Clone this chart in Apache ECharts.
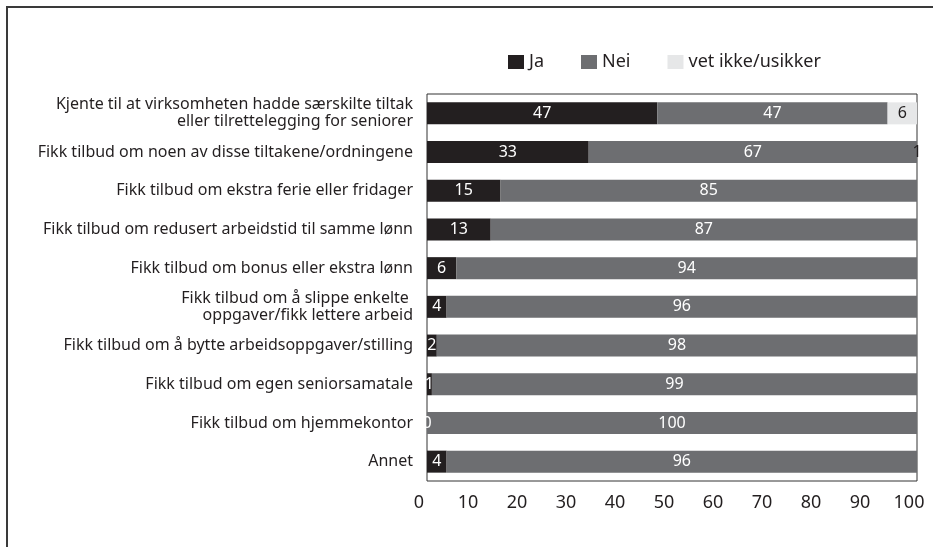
<!DOCTYPE html>
<html>
<head>
<meta charset="utf-8">
<script src="https://cdn.jsdelivr.net/npm/echarts@6/dist/echarts.min.js"></script>
<style>
  html, body { margin: 0; padding: 0; background: #fff; }
  #chart { width: 933px; height: 547px; }
</style>
</head>
<body>
<div id="chart"></div>
<script>
// kategorier (ovenfra og ned)
var categories = [
  'Kjente til at virksomheten hadde særskilte tiltak\neller tilrettelegging for seniorer',
  'Fikk tilbud om noen av disse tiltakene/ordningene',
  'Fikk tilbud om ekstra ferie eller fridager',
  'Fikk tilbud om redusert arbeidstid til samme lønn',
  'Fikk tilbud om bonus eller ekstra lønn',
  'Fikk tilbud om å slippe enkelte \noppgaver/fikk lettere arbeid',
  'Fikk tilbud om å bytte arbeidsoppgaver/stilling',
  'Fikk tilbud om egen seniorsamatale',
  'Fikk tilbud om hjemmekontor',
  'Annet'
];
var ja = [47, 33, 15, 13, 6, 4, 2, 1, 0, 4];
var nei = [47, 67, 85, 87, 94, 96, 98, 99, 100, 96];
var vetIkke = [6, 1, 0, 0, 0, 0, 0, 0, 0, 0];

var chart = echarts.init(document.getElementById('chart'));
var fontFam = '"Noto Sans", "Open Sans", sans-serif';
var ink = '#231f20';

function barLabel(color, hideZero) {
  return {
    show: true,
    position: 'inside',
    color: color,
    fontSize: 16,
    fontFamily: fontFam,
    formatter: function (p) {
      if (hideZero && p.value === 0) return '';
      return p.value;
    }
  };
}

var option = {
  animation: false,
  backgroundColor: '#fff',
  textStyle: { fontFamily: fontFam },
  // ytre ramme (topp og venstre)
  graphic: [
    { type: 'line', shape: { x1: 6, y1: 7, x2: 933, y2: 7 }, style: { stroke: '#3a3a3a', lineWidth: 2 } },
    { type: 'line', shape: { x1: 7, y1: 7, x2: 7, y2: 547 }, style: { stroke: '#3a3a3a', lineWidth: 2 } }
  ],
  legend: {
    left: 503,
    top: 48,
    itemWidth: 16,
    itemHeight: 14,
    itemGap: 37,
    icon: 'rect',
    textStyle: { fontSize: 18, color: ink, fontFamily: fontFam },
    data: ['Ja', 'Nei', 'vet ikke/usikker']
  },
  grid: {
    left: 427,
    right: 16,
    top: 94,
    bottom: 66,
    show: true,
    borderColor: '#333',
    borderWidth: 1
  },
  xAxis: {
    type: 'value',
    min: 0,
    max: 100,
    interval: 10,
    axisLine: { show: false },
    axisTick: { show: false },
    splitLine: { show: false },
    axisLabel: {
      margin: 13,
      fontSize: 18,
      color: ink,
      fontFamily: fontFam,
      padding: [0, 16, 0, 0]
    }
  },
  yAxis: {
    type: 'category',
    inverse: true,
    data: categories,
    axisLine: { show: false },
    axisTick: { show: false },
    axisLabel: {
      margin: 14,
      fontSize: 16,
      lineHeight: 17,
      color: ink,
      fontFamily: fontFam
    }
  },
  series: [
    {
      name: 'Ja',
      type: 'bar',
      stack: 'tot',
      barWidth: 22,
      itemStyle: { color: ink },
      label: barLabel('#fff', false),
      data: ja
    },
    {
      name: 'Nei',
      type: 'bar',
      stack: 'tot',
      barWidth: 22,
      itemStyle: { color: '#6d6e71' },
      label: barLabel('#fff', false),
      data: nei
    },
    {
      name: 'vet ikke/usikker',
      type: 'bar',
      stack: 'tot',
      barWidth: 22,
      itemStyle: { color: '#e6e7e8' },
      label: barLabel(ink, true),
      data: vetIkke
    }
  ]
};

chart.setOption(option);
</script>
</body>
</html>
